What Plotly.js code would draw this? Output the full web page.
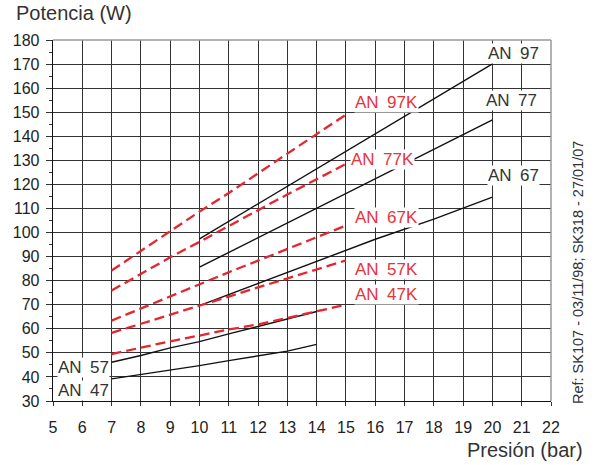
<!DOCTYPE html>
<html>
<head>
<meta charset="utf-8">
<script src="https://cdn.plot.ly/plotly-3.0.1.min.js"></script>
<style>html,body{margin:0;padding:0;background:#fff;}</style>
</head>
<body>
<div id="chart" style="width:595px;height:465px;"></div>
<script>
// ---- data ----
const xK = [7, 8, 9, 10, 11, 12, 13, 14, 15];
const an97K = [84.2, 92.3, 100.4, 108.7, 116.4, 124.7, 132.8, 140.9, 149];
const an77K = [75.9, 82.8, 89.7, 96.1, 102.8, 109.3, 115.8, 122.2, 128.5];
const an67K = [63.4, 68.5, 73.6, 78.7, 83.5, 88.3, 93.1, 98, 102.9];
const an57K = [58.3, 62, 65.8, 69.5, 73.4, 77.2, 80.9, 84.6, 88.4];
const an47K = [49.5, 52.2, 54.8, 57.2, 59.7, 61.8, 64.6, 67.4, 70];

const xBig = [10, 12, 14, 16, 18, 20];
const an97 = [97.4, 111.9, 126.5, 141, 155.6, 170.1];
const an77 = [85.6, 97.8, 110.1, 122.3, 134.6, 146.8];
const an67 = [69.6, 78.8, 88, 97.2, 105.6, 114.7];

const xSmall = [7, 8, 9, 10, 11, 12, 13, 14];
const an57 = [46.1, 48.9, 52.1, 54.7, 57.9, 61, 64.1, 67.2];
const an47 = [39.2, 41, 43, 44.7, 46.8, 48.8, 50.7, 53.5];

const labels = [
  {t: 'AN\u2002' + '97',  x: 19.82, y: 174.2, red: false},
  {t: 'AN\u2002' + '77',  x: 19.76, y: 154.8, red: false},
  {t: 'AN\u2002' + '67',  x: 19.82, y: 123.7, red: false},
  {t: 'AN\u2002' + '97K', x: 15.26, y: 154.1, red: true},
  {t: 'AN\u2002' + '77K', x: 15.14, y: 130.3, red: true},
  {t: 'AN\u2002' + '67K', x: 15.26, y: 106.4, red: true},
  {t: 'AN\u2002' + '57K', x: 15.26, y: 84.5,  red: true},
  {t: 'AN\u2002' + '47K', x: 15.26, y: 74.2,  red: true},
  {t: 'AN\u2002' + '57',  x: 5.12,  y: 43.8,  red: false},
  {t: 'AN\u2002' + '47',  x: 5.12,  y: 34.4,  red: false}
];

const xTicks = [5,6,7,8,9,10,11,12,13,14,15,16,17,18,19,20,21,22];
const yTicks = [30,40,50,60,70,80,90,100,110,120,130,140,150,160,170,180];

// ---- styles ----
const RED = '#e8242e';
const BLACK = '#111111';
const redLine = {color: RED, width: 2.3, dash: '10px,5px'};
const blackLine = {color: BLACK, width: 1.4};
const FONT = 'Liberation Sans, Arial, Helvetica, sans-serif';

const traces = [
  {x: xBig, y: an97, line: blackLine},
  {x: xBig, y: an77, line: blackLine},
  {x: xBig, y: an67, line: blackLine},
  {x: xSmall, y: an57, line: blackLine},
  {x: xSmall, y: an47, line: blackLine},
  {x: xK, y: an97K, line: redLine},
  {x: xK, y: an77K, line: redLine},
  {x: xK, y: an67K, line: redLine},
  {x: xK, y: an57K, line: redLine},
  {x: xK, y: an47K, line: redLine}
].map(t => Object.assign({type: 'scatter', mode: 'lines', hoverinfo: 'skip', showlegend: false}, t));

const annotations = labels.map(l => ({
  x: l.x, y: l.y, xref: 'x', yref: 'y', text: l.t, showarrow: false,
  xanchor: 'left', yanchor: 'middle',
  font: {family: FONT, size: 17, color: l.red ? '#e8323c' : '#333333'},
  bgcolor: '#ffffff', borderpad: 0
}));

annotations.push(
  {x: -0.078, y: 1.075, xref: 'paper', yref: 'paper', text: 'Potencia (W)', showarrow: false,
   xanchor: 'left', yanchor: 'middle', font: {family: FONT, size: 20, color: '#333'}},
  {x: 1.068, y: -0.136, xref: 'paper', yref: 'paper', text: 'Presión (bar)', showarrow: false,
   xanchor: 'right', yanchor: 'middle', font: {family: FONT, size: 20, color: '#333'}},
  {x: 1.054, y: 0.357, xref: 'paper', yref: 'paper', text: 'Ref: SK107 - 03/11/98; SK318 - 27/01/07',
   showarrow: false, textangle: -90, xanchor: 'center', yanchor: 'middle',
   font: {family: FONT, size: 14.5, color: '#333'}}
);

const layout = {
  width: 595, height: 465,
  margin: {l: 53, r: 44, t: 40, b: 64, pad: 0},
  paper_bgcolor: '#fff', plot_bgcolor: '#fff',
  font: {family: FONT, color: '#222'},
  xaxis: {
    range: [5, 22], tickmode: 'array', tickvals: xTicks, ticktext: xTicks.map(String),
    showgrid: true, gridcolor: '#333333', gridwidth: 1,
    showline: true, linecolor: '#111', linewidth: 1.3,
    ticks: 'outside', ticklen: 4, tickcolor: '#333', ticklabelstandoff: 7,
    tickfont: {family: FONT, size: 16, color: '#222'}, zeroline: false, fixedrange: true
  },
  yaxis: {
    range: [30, 180], tickmode: 'array', tickvals: yTicks, ticktext: yTicks.map(String),
    showgrid: true, gridcolor: '#333333', gridwidth: 1,
    showline: true, linecolor: '#111', linewidth: 1.3,
    ticks: 'outside', ticklen: 6, tickcolor: '#333', ticklabelstandoff: 3,
    minor: {dtick: 5, tick0: 30, ticks: 'outside', ticklen: 3, tickcolor: '#333', showgrid: false},
    tickfont: {family: FONT, size: 16, color: '#222'}, zeroline: false, fixedrange: true
  },
  shapes: [
    {type: 'line', xref: 'paper', yref: 'paper', x0: 0, x1: 1, y0: 1, y1: 1, line: {color: '#999', width: 1.5}},
    {type: 'line', xref: 'paper', yref: 'paper', x0: 1, x1: 1, y0: 0, y1: 1, line: {color: '#999', width: 1.5}}
  ],
  annotations: annotations
};

Plotly.newPlot('chart', traces, layout, {staticPlot: true, displayModeBar: false});
</script>
</body>
</html>
